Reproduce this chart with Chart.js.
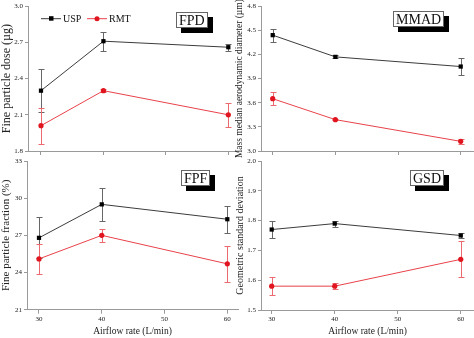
<!DOCTYPE html>
<html>
<head>
<meta charset="utf-8">
<script src="https://cdn.jsdelivr.net/npm/chart.js@4.4.0/dist/chart.umd.min.js"></script>
<style>
  html, body { margin: 0; padding: 0; background: #fff; }
  #wrap { position: relative; width: 474px; height: 338px; overflow: hidden; background: #fff; }
  canvas { position: absolute; }
  .tag {
    position: absolute; font-family: "Liberation Serif", "Times New Roman", serif;
    font-size: 14px; line-height: 13px; padding: 1px 2px 0 2px; color: #111;
    background: #fff; border: 1px solid #666; box-shadow: 5px 5px 0 #000; white-space: nowrap;
  }
</style>
</head>
<body>
<div id="wrap">
  <canvas id="cFPD" width="240" height="160" style="left:0;top:0"></canvas>
  <canvas id="cMMAD" width="240" height="160" style="left:234px;top:0"></canvas>
  <canvas id="cFPF" width="240" height="188" style="left:0;top:150px"></canvas>
  <canvas id="cGSD" width="240" height="188" style="left:234px;top:150px"></canvas>
  <div class="tag" style="left:176px;top:12px">FPD</div>
  <div class="tag" style="left:393px;top:11px">MMAD</div>
  <div class="tag" style="left:181px;top:170px">FPF</div>
  <div class="tag" style="left:410px;top:170px">GSD</div>
</div>
<script>
// ---- data ----
const airflow = [30, 40, 60];
const xTicks = [30, 40, 50, 60];
const seriesNames = ['USP', 'RMT'];

const fpdUSP = [2.30, 2.71, 2.66];
const fpdUSPErr = [0.18, 0.08, 0.03];
const fpdRMT = [2.01, 2.30, 2.10];
const fpdRMTErr = [0.15, 0.01, 0.10];
const fpdTicks = [1.8, 2.1, 2.4, 2.7, 3.0];

const mmadUSP = [4.44, 4.17, 4.05];
const mmadUSPErr = [0.08, 0.02, 0.10];
const mmadRMT = [3.65, 3.39, 3.12];
const mmadRMTErr = [0.08, 0.01, 0.03];
const mmadTicks = [3.0, 3.3, 3.6, 3.9, 4.2, 4.5, 4.8];

const fpfUSP = [26.8, 29.5, 28.3];
const fpfUSPErr = [1.65, 1.33, 1.1];
const fpfRMT = [25.1, 27.0, 24.7];
const fpfRMTErr = [1.2, 0.5, 1.45];
const fpfTicks = [21, 24, 27, 30, 33];

const gsdUSP = [1.77, 1.79, 1.75];
const gsdUSPErr = [0.03, 0.01, 0.01];
const gsdRMT = [1.58, 1.58, 1.67];
const gsdRMTErr = [0.03, 0.01, 0.06];
const gsdTicks = [1.5, 1.6, 1.7, 1.8, 1.9, 2.0];

// ---- styling ----
const FONT = '"Liberation Serif", "Times New Roman", serif';
const AXIS = '#9a9a9a';
const TXT = '#222';
const USP_COLOR = '#3c3c3c';
const USP_POINT = '#000';
const USP_ERR = '#666';
const RMT_COLOR = '#e8424a';
const RMT_POINT = '#e0151f';
const RMT_ERR = '#ea6a70';

const errorBars = {
  id: 'errorBars',
  beforeDatasetsDraw(chart) {
    const { ctx } = chart;
    const x = chart.scales.x, y = chart.scales.y;
    chart.data.datasets.forEach(ds => {
      if (!ds.errors) return;
      ctx.save();
      ctx.strokeStyle = ds.errorColor;
      ctx.lineWidth = 1;
      ds.data.forEach((p, i) => {
        const e = ds.errors[i];
        const px = Math.round(x.getPixelForValue(p.x)) + 0.5;
        const yt = Math.round(y.getPixelForValue(p.y + e)) + 0.5;
        const yb = Math.round(y.getPixelForValue(p.y - e)) + 0.5;
        ctx.beginPath();
        ctx.moveTo(px, yt); ctx.lineTo(px, yb);
        ctx.moveTo(px - 3, yt); ctx.lineTo(px + 3, yt);
        ctx.moveTo(px - 3, yb); ctx.lineTo(px + 3, yb);
        ctx.stroke();
      });
      ctx.restore();
    });
  }
};

const legendPlugin = {
  id: 'miniLegend',
  afterDraw(chart, args, opts) {
    if (!opts || !opts.show) return;
    const { ctx } = chart;
    const yc = chart.chartArea.top + 12;
    let x0 = chart.chartArea.left + 13;
    ctx.save();
    chart.data.datasets.forEach(ds => {
      ctx.strokeStyle = ds.borderColor;
      ctx.lineWidth = 1;
      ctx.beginPath();
      ctx.moveTo(x0, yc + 0.5); ctx.lineTo(x0 + 20, yc + 0.5);
      ctx.stroke();
      ctx.fillStyle = ds.pointBackgroundColor;
      if (ds.pointStyle === 'rect') {
        ctx.fillRect(x0 + 8, yc - 2, 4.5, 4.5);
      } else {
        ctx.beginPath(); ctx.arc(x0 + 10, yc + 0.5, 2.5, 0, Math.PI * 2); ctx.fill();
      }
      ctx.fillStyle = '#111';
      ctx.font = '10px ' + FONT;
      ctx.textBaseline = 'middle';
      ctx.fillText(ds.label, x0 + 22, yc + 1);
      x0 += 46;
    });
    ctx.restore();
  }
};

function makeDataset(name, vals, errs, isUSP) {
  return {
    label: name,
    data: airflow.map((a, i) => ({ x: a, y: vals[i] })),
    errors: errs,
    errorColor: isUSP ? USP_ERR : RMT_ERR,
    borderColor: isUSP ? USP_COLOR : RMT_COLOR,
    borderWidth: 1,
    pointStyle: isUSP ? 'rect' : 'circle',
    pointRadius: isUSP ? 3 : 2.6,
    pointBackgroundColor: isUSP ? USP_POINT : RMT_POINT,
    pointBorderColor: isUSP ? USP_POINT : RMT_POINT,
    pointBorderWidth: 0,
    tension: 0,
    clip: false
  };
}

function makePanel(id, p) {
  const ctx = document.getElementById(id);
  new Chart(ctx, {
    type: 'line',
    data: {
      datasets: [
        makeDataset(seriesNames[0], p.usp, p.uspErr, true),
        makeDataset(seriesNames[1], p.rmt, p.rmtErr, false)
      ]
    },
    plugins: [errorBars, legendPlugin],
    options: {
      responsive: false,
      animation: false,
      devicePixelRatio: 1,
      layout: { autoPadding: false, padding: { top: p.padTop, right: p.padRight, left: 0, bottom: 0 } },
      plugins: {
        legend: { display: false },
        tooltip: { enabled: false },
        miniLegend: { show: !!p.legend }
      },
      scales: {
        x: {
          type: 'linear',
          min: p.xMin, max: p.xMax,
          afterBuildTicks: a => { a.ticks = xTicks.map(v => ({ value: v })); },
          afterFit: s => { s.height = p.xH; },
          ticks: {
            display: p.xLabels, padding: 1, color: TXT,
            font: { family: FONT, size: 7 },
            callback: v => String(v)
          },
          grid: { drawOnChartArea: false, drawTicks: true, tickLength: 4, color: AXIS },
          border: { display: true, color: AXIS, width: 1 },
          title: {
            display: p.xLabels, text: 'Airflow rate (L/min)', color: TXT,
            font: { family: FONT, size: 9.5 }, padding: { top: 0, bottom: 1 }
          }
        },
        y: {
          min: p.ticks[0], max: p.ticks[p.ticks.length - 1],
          afterBuildTicks: a => { a.ticks = p.ticks.map(v => ({ value: v })); },
          afterFit: s => { s.width = p.yW; },
          ticks: {
            padding: 2, color: TXT,
            font: { family: FONT, size: 7 },
            callback: v => Number(v).toFixed(p.dec)
          },
          grid: { drawOnChartArea: false, drawTicks: true, tickLength: 3, color: AXIS },
          border: { display: true, color: AXIS, width: 1 },
          title: {
            display: true, text: p.yTitle, color: TXT,
            font: { family: FONT, size: p.yTitleSize }, padding: 0
          }
        }
      }
    }
  });
}

makePanel('cFPD', {
  usp: fpdUSP, uspErr: fpdUSPErr, rmt: fpdRMT, rmtErr: fpdRMTErr, ticks: fpdTicks, dec: 1,
  yTitle: 'Fine particle dose (\u00b5g)', yTitleSize: 12,
  xMin: 27.92, xMax: 61.55, padTop: 2, padRight: 2, yW: 28, xH: 9, xLabels: false, legend: true
});
makePanel('cMMAD', {
  usp: mmadUSP, uspErr: mmadUSPErr, rmt: mmadRMT, rmtErr: mmadRMTErr, ticks: mmadTicks, dec: 1,
  yTitle: 'Mass median aerodynamic diameter (\u00b5m)', yTitleSize: 9.5,
  xMin: 28.13, xMax: 62.12, padTop: 2, padRight: 0, yW: 27, xH: 9, xLabels: false
});
makePanel('cFPF', {
  usp: fpfUSP, uspErr: fpfUSPErr, rmt: fpfRMT, rmtErr: fpfRMTErr, ticks: fpfTicks, dec: 0,
  yTitle: 'Fine particle fraction (%)', yTitleSize: 11,
  xMin: 28.09, xMax: 61.7, padTop: 11, padRight: 2, yW: 27, xH: 28.3, xLabels: true
});
makePanel('cGSD', {
  usp: gsdUSP, uspErr: gsdUSPErr, rmt: gsdRMT, rmtErr: gsdRMTErr, ticks: gsdTicks, dec: 1,
  yTitle: 'Geometric standard deviation', yTitleSize: 10,
  xMin: 28.3, xMax: 62.1, padTop: 11, padRight: 0, yW: 27, xH: 28, xLabels: true
});
</script>
</body>
</html>
